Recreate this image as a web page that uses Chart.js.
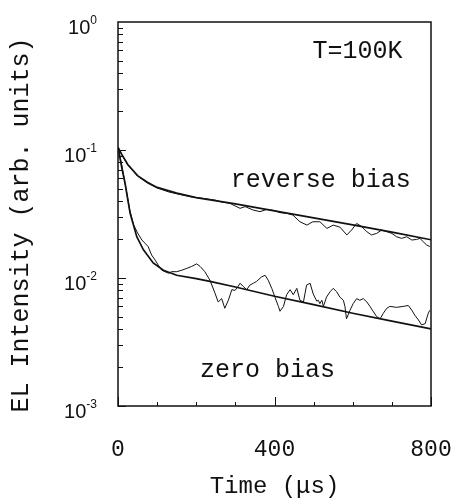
<!DOCTYPE html>
<html>
<head>
<meta charset="utf-8">
<script src="https://cdn.jsdelivr.net/npm/chart.js@4.4.1/dist/chart.umd.min.js"></script>
<style>
    html, body { margin: 0; padding: 0; background: #fff; }
    #wrap { width: 457px; height: 499px; }
</style>
</head>
<body>
<div id="wrap"><canvas id="grafico"></canvas></div>
<script>
// Time axis (µs) and EL intensity values
const reverseTime = [0, 10, 25, 50, 75, 100, 130, 160, 190, 220, 250, 261, 286, 312, 325, 345, 363, 381, 401, 414,
    432, 447, 465, 483, 498, 516, 534, 550, 567, 585, 597, 610, 623, 636, 648, 661, 674, 687, 700, 712,
    725, 738, 751, 763, 772, 780, 789, 797];
const reverseData = [0.105, 0.0914, 0.0763, 0.0626, 0.0552, 0.0505, 0.047, 0.0448, 0.0428, 0.0418, 0.0405, 0.0395, 0.0383, 0.035, 0.0361, 0.034, 0.033, 0.0344, 0.0336, 0.0324,
    0.032, 0.031, 0.0275, 0.0259, 0.0275, 0.0275, 0.0244, 0.0259, 0.025, 0.0217, 0.0237, 0.0267, 0.0252, 0.023, 0.0217, 0.0223, 0.0237, 0.023, 0.0223, 0.021,
    0.0204, 0.021, 0.0198, 0.02, 0.0204, 0.0192, 0.0181, 0.0176];

const zeroTime = [0, 10, 20, 30, 40, 50, 61, 69, 77, 86, 95, 103, 112, 120, 129, 137, 150, 163, 176, 188,
    201, 210, 222, 235, 248, 256, 265, 273, 282, 291, 299, 307, 312, 320, 329, 337, 346, 354, 367, 376,
    384, 393, 401, 410, 414, 423, 431, 440, 448, 457, 465, 474, 482, 491, 499, 508, 512, 516, 521, 525,
    533, 542, 550, 559, 567, 576, 580, 584, 593, 601, 610, 618, 627, 636, 644, 652, 661, 670, 678, 687,
    695, 712, 729, 742, 751, 759, 768, 776, 785, 793, 797];
const zeroData = [0.105, 0.075, 0.051, 0.034, 0.026, 0.0225, 0.0198, 0.0187, 0.0176, 0.0151, 0.0138, 0.0126, 0.0115, 0.0112, 0.0109, 0.0112, 0.0112, 0.0115, 0.0119, 0.0123,
    0.0129, 0.0123, 0.0112, 0.0096, 0.0076, 0.0065, 0.0069, 0.0058, 0.0067, 0.0081, 0.008, 0.0086, 0.0091, 0.0086, 0.0081, 0.0088, 0.0091, 0.0094, 0.0102, 0.0105,
    0.0096, 0.0083, 0.0071, 0.006, 0.0055, 0.006, 0.0074, 0.0081, 0.0074, 0.0083, 0.0067, 0.0065, 0.0088, 0.0091, 0.0075, 0.0066, 0.0067, 0.0063, 0.0067, 0.006,
    0.0071, 0.0078, 0.0083, 0.0078, 0.0071, 0.0067, 0.006, 0.0048, 0.0056, 0.0063, 0.0069, 0.0067, 0.0069, 0.0065, 0.006, 0.0055, 0.005, 0.0048, 0.0053, 0.0058,
    0.006, 0.0059, 0.006, 0.0061, 0.0056, 0.0051, 0.0047, 0.0043, 0.0044, 0.0053, 0.0056];

// Fitted curves
const reverseFitTime = [0, 10, 25, 50, 75, 100, 150, 200, 300, 400, 500, 600, 700, 800];
const reverseFit = [0.105, 0.092, 0.077, 0.063, 0.056, 0.051, 0.046, 0.0425, 0.038, 0.0335, 0.0295, 0.026, 0.0228, 0.0199];

const zeroFitTime = [0, 10, 18, 31, 48, 65, 90, 116, 150, 200, 235, 300, 400, 500, 600, 700, 800];
const zeroFit = [0.105, 0.072, 0.055, 0.032, 0.021, 0.0166, 0.0131, 0.0115, 0.0105, 0.0099, 0.0094, 0.0085, 0.0072, 0.0062, 0.0053, 0.0046, 0.004];

// Axis ticks
const xTicks = [0, 400, 800];
const xMinorTicks = [100, 200, 300, 500, 600, 700];
const yExponents = [0, -1, -2, -3];

const INK = '#111';
const MONO = "'Liberation Mono', 'DejaVu Sans Mono', monospace";
const Y_TITLE = 'EL Intensity (arb. units)';

function toPoints(xs, ys) {
    return xs.map((x, i) => ({ x: x, y: ys[i] }));
}

// Text labels placed in data coordinates
const annotations = [
    { text: 'T=100K', x: 612, y: 0.523 },
    { text: 'reverse bias', x: 518, y: 0.0514 },
    { text: 'zero bias', x: 382, y: 0.00169 }
];

const framePlugin = {
    id: 'frame',
    afterDraw(chart) {
        const ctx = chart.ctx;
        const a = chart.chartArea;
        const xs = chart.scales.x;
        const ys = chart.scales.y;

        ctx.save();
        ctx.strokeStyle = INK;
        ctx.fillStyle = INK;

        // caja del gráfico
        ctx.lineWidth = 1.5;
        ctx.strokeRect(a.left, a.top, a.right - a.left, a.bottom - a.top);

        // ticks hacia dentro en el eje x
        ctx.lineWidth = 1;
        ctx.beginPath();
        xMinorTicks.forEach(v => {
            const px = Math.round(xs.getPixelForValue(v)) + 0.5;
            ctx.moveTo(px, a.bottom);
            ctx.lineTo(px, a.bottom - 4);
        });
        xTicks.forEach(v => {
            const px = Math.round(xs.getPixelForValue(v)) + 0.5;
            ctx.moveTo(px, a.bottom);
            ctx.lineTo(px, a.bottom - 9);
        });

        // ticks logarítmicos en el eje y
        yExponents.forEach(e => {
            for (let m = 1; m <= 9; m++) {
                const v = m * Math.pow(10, e - 1);
                if (v < ys.min || v > ys.max) continue;
                const py = Math.round(ys.getPixelForValue(v)) + 0.5;
                ctx.moveTo(a.left, py);
                ctx.lineTo(a.left + (m === 1 ? 8 : 5), py);
            }
        });
        ctx.stroke();

        // etiquetas 10^n
        const rightEdge = a.left - 21;
        yExponents.forEach(e => {
            const py = ys.getPixelForValue(Math.pow(10, e));
            const expText = e === 0 ? '0' : '-' + Math.abs(e);
            ctx.font = "12px 'Liberation Sans', Arial, sans-serif";
            const expWidth = ctx.measureText(expText).width;
            ctx.textAlign = 'left';
            ctx.textBaseline = 'alphabetic';
            ctx.fillText(expText, rightEdge - expWidth, py + 1.5);
            ctx.font = "20px 'Liberation Sans', Arial, sans-serif";
            ctx.textAlign = 'right';
            ctx.fillText('10', rightEdge - expWidth, py + 12);
        });

        // título del eje y (un poco por debajo del centro, como en el original)
        ctx.save();
        ctx.translate(21, (a.top + a.bottom) / 2 + 11);
        ctx.rotate(-Math.PI / 2);
        ctx.font = '25px ' + MONO;
        ctx.textAlign = 'center';
        ctx.textBaseline = 'middle';
        ctx.fillText(Y_TITLE, 0, 0);
        ctx.restore();

        // textos dentro del gráfico
        ctx.font = '25px ' + MONO;
        ctx.textAlign = 'center';
        ctx.textBaseline = 'alphabetic';
        annotations.forEach(n => {
            ctx.fillText(n.text, xs.getPixelForValue(n.x), ys.getPixelForValue(n.y));
        });
        ctx.restore();
    }
};

function lineDataset(label, xs, ys, width) {
    return {
        label: label,
        data: toPoints(xs, ys),
        borderColor: INK,
        borderWidth: width,
        pointRadius: 0,
        tension: 0,
        fill: false
    };
}

const ctx = document.getElementById('grafico').getContext('2d');
new Chart(ctx, {
    type: 'line',
    data: {
        datasets: [
            lineDataset('reverse bias', reverseTime, reverseData, 1),
            lineDataset('zero bias', zeroTime, zeroData, 1),
            lineDataset('reverse fit', reverseFitTime, reverseFit, 1.7),
            lineDataset('zero fit', zeroFitTime, zeroFit, 1.7)
        ]
    },
    options: {
        responsive: true,
        maintainAspectRatio: false,
        animation: false,
        layout: { padding: { top: 22, right: 26, left: 0, bottom: 0 } },
        plugins: {
            legend: { display: false },
            tooltip: { enabled: false }
        },
        scales: {
            x: {
                type: 'linear',
                min: 0,
                max: 800,
                afterBuildTicks: s => { s.ticks = xTicks.map(v => ({ value: v })); },
                afterFit: s => {
                    s.height = 93;
                    s.paddingLeft = 0;
                    s.paddingRight = 0;
                },
                grid: { display: false, drawTicks: false },
                border: { display: false },
                ticks: {
                    padding: 30,
                    color: INK,
                    autoSkip: false,
                    maxRotation: 0,
                    font: { family: MONO, size: 23 }
                },
                title: {
                    display: true,
                    text: 'Time (μs)',
                    color: INK,
                    font: { family: MONO, size: 24, lineHeight: 1 },
                    padding: { top: 0, bottom: 0 }
                }
            },
            y: {
                type: 'logarithmic',
                min: 0.001,
                max: 1,
                afterFit: s => {
                    s.width = 118;
                    s.paddingTop = 0;
                    s.paddingBottom = 0;
                },
                grid: { display: false },
                border: { display: false },
                ticks: { display: false },
                title: { display: false, text: Y_TITLE }
            }
        }
    },
    plugins: [framePlugin]
});
</script>
</body>
</html>
